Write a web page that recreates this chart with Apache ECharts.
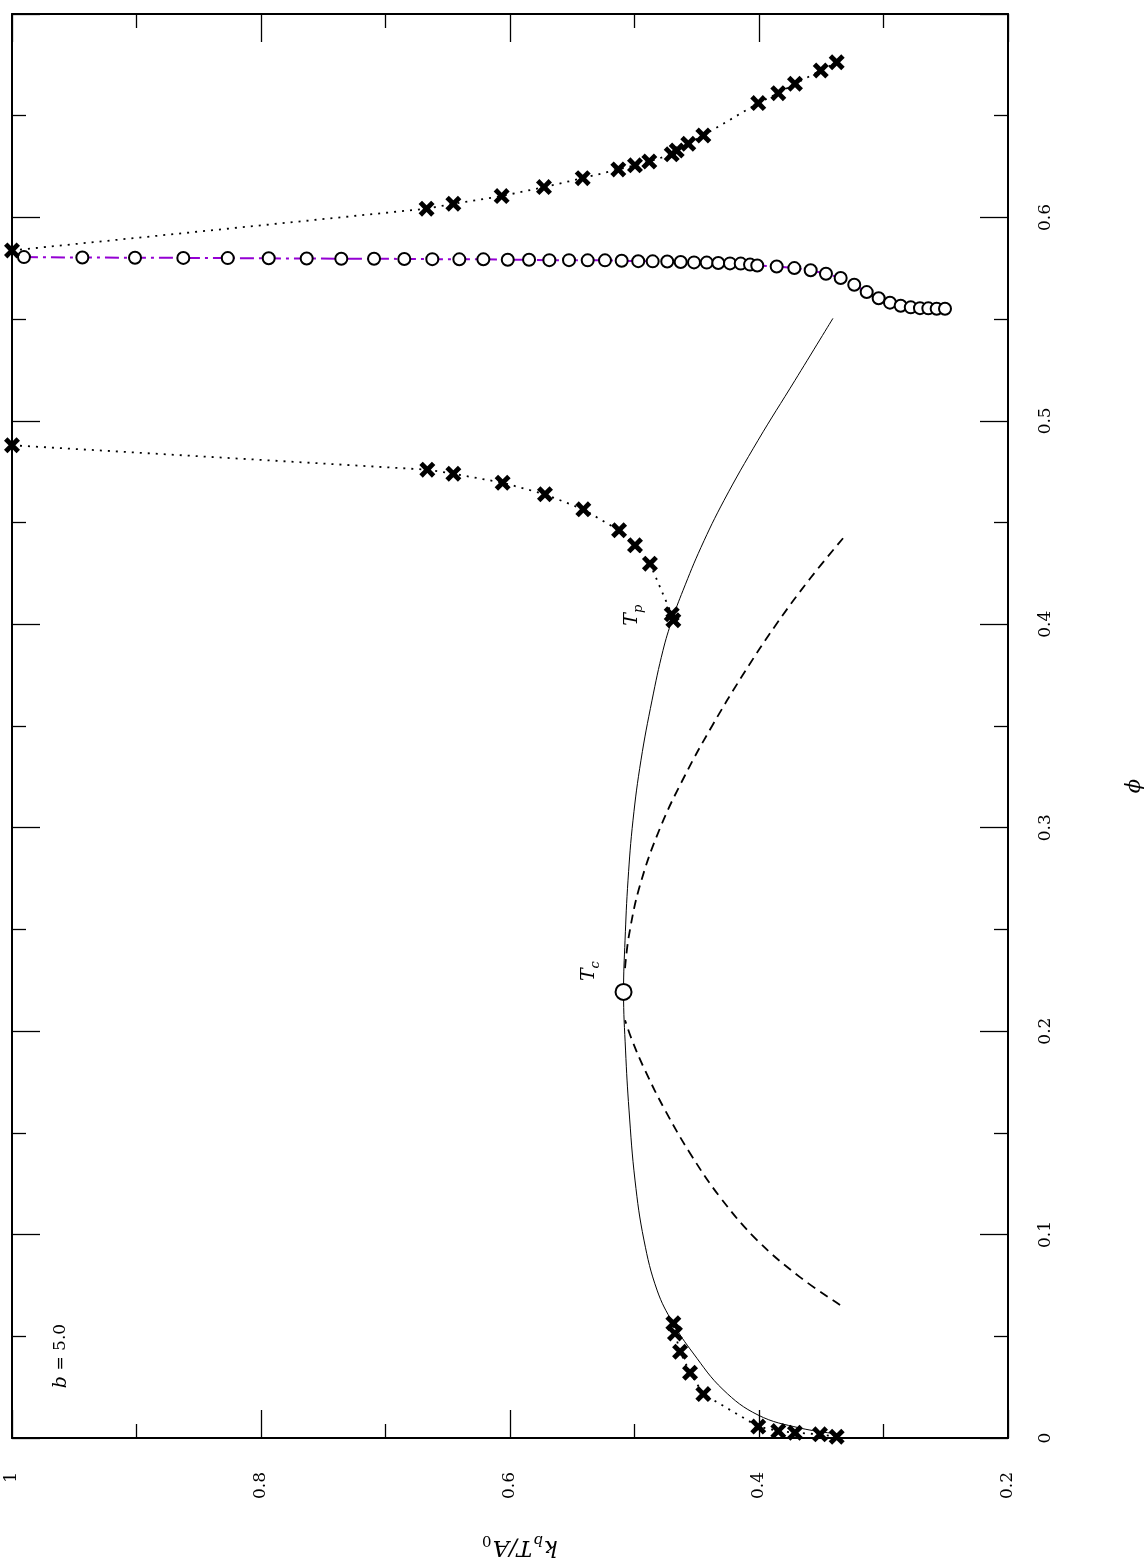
<!DOCTYPE html>
<html><head><meta charset="utf-8">
<script src="https://cdn.jsdelivr.net/npm/echarts@6/dist/echarts.min.js"></script>
<style>html,body{margin:0;padding:0;background:#fff;} #c{width:1144px;height:1562px;}</style>
</head><body><div id="c"></div>
<script>
// ---- data: kT = k_b T / A_0 (horizontal, inverted), phi (vertical) ----
const kTTicks = [0.2, 0.4, 0.6, 0.8, 1];
const phiTicks = [0, 0.1, 0.2, 0.3, 0.4, 0.5, 0.6];

const binodalKT  = [0.3365,0.3671,0.4008,0.4289,0.4530,0.4691,0.4819,0.4924,0.4996,0.5044,0.5072,0.5088,0.5076,0.5052,0.5012,0.4948,0.4859,0.4771,0.4699,0.4610,0.4466,0.4281,0.4008,0.3711,0.3406];
const binodalPhi = [0.0020,0.0049,0.0113,0.0238,0.0418,0.0565,0.0727,0.0973,0.1268,0.1612,0.1907,0.2193,0.2447,0.2742,0.3037,0.3332,0.3627,0.3872,0.4020,0.4167,0.4378,0.4609,0.4904,0.5199,0.5504];

const spinLowKT  = [0.3349,0.3671,0.4016,0.4313,0.4554,0.4755,0.4916,0.5020,0.5076];
const spinLowPhi = [0.0654,0.0791,0.0973,0.1184,0.1400,0.1612,0.1808,0.1956,0.2054];
const spinUpKT   = [0.5076,0.5044,0.4956,0.4795,0.4594,0.4378,0.4132,0.3861,0.3588,0.3325];
const spinUpPhi  = [0.2310,0.2472,0.2717,0.2998,0.3258,0.3499,0.3749,0.4000,0.4226,0.4423];

const crossLowKT  = [0.3376,0.3510,0.3711,0.3845,0.4006,0.4447,0.4554,0.4634,0.4675,0.4688];
const crossLowPhi = [0.0006,0.0018,0.0026,0.0034,0.0056,0.0216,0.0321,0.0424,0.0514,0.0564];
const crossMidKT  = [1.0,0.6664,0.6455,0.6059,0.5719,0.5411,0.5124,0.4996,0.4876,0.4701,0.4688];
const crossMidPhi = [0.4880,0.4760,0.4740,0.4696,0.4639,0.4565,0.4462,0.4388,0.4298,0.4049,0.4020];
const crossUpKT   = [1.0,0.6670,0.6455,0.6067,0.5727,0.5416,0.5130,0.4996,0.4881,0.4701,0.4661,0.4568,0.4447,0.4006,0.3845,0.3711,0.3504,0.3376];
const crossUpPhi  = [0.5838,0.6043,0.6067,0.6105,0.6149,0.6193,0.6236,0.6256,0.6275,0.6310,0.6329,0.6362,0.6403,0.6562,0.6611,0.6657,0.6722,0.6763];

const circKT  = [0.9904,0.9435,0.9012,0.8624,0.8267,0.7938,0.7633,0.7355,0.7092,0.6849,0.6624,0.6407,
                 0.6214,0.6018,0.5847,0.5684,0.5526,0.5376,0.5237,0.5103,0.4970,0.4854,0.4737,0.4629,0.4522,0.4420,0.4327,0.4233,0.4147,0.4072,0.4014,
                 0.3858,0.3716,0.3585,0.3462,0.3344,0.3235,0.3135,0.3039,0.2948,0.2862,0.2781,0.2707,0.2640,0.2573,0.2506];
const circPhi = [0.5805,0.5803,0.5802,0.5801,0.5800,0.5799,0.5798,0.5797,0.5797,0.5796,0.5795,0.5794,
                 0.5794,0.5792,0.5792,0.5790,0.5790,0.5789,0.5789,0.5787,0.5785,0.5784,0.5783,0.5781,0.5779,0.5778,0.5776,0.5774,0.5773,0.5768,0.5764,
                 0.5759,0.5751,0.5740,0.5723,0.5702,0.5669,0.5633,0.5603,0.5581,0.5566,0.5558,0.5554,0.5553,0.5551,0.5551];

const TcPoint = [0.5088, 0.2193];
const labelTc = {text: 'T', sub: 'c', kT: 0.5357, phi: 0.2295};
const labelTp = {text: 'T', sub: 'p', kT: 0.5012, phi: 0.4045};
const labelB  = {kT: 0.9598, phi: 0.0403};
const labelPhiAxis = {kT: 0.0985, phi: 0.3205};
const labelKTAxis  = {kT: 0.5920, phi: -0.0531};

// ---- build ----
const zip = (a, b) => a.map((v, i) => [v, b[i]]);
const serif = 'DejaVu Serif';
const crossPath = 'path://M0,3L3,0L7,4L11,0L14,3L10,7L14,11L11,14L7,10L3,14L0,11L4,7Z';

const richMath = {
  i:  {fontFamily: serif, fontStyle: 'italic', fontSize: 19, lineHeight: 20, verticalAlign: 'top', color: '#000'},
  s:  {fontFamily: serif, fontStyle: 'italic', fontSize: 13, lineHeight: 14, padding: [9,0,0,0], verticalAlign: 'top', color: '#000'},
  r:  {fontFamily: serif, fontSize: 17, lineHeight: 20, verticalAlign: 'top', color: '#000'},
  ph: {fontFamily: serif, fontStyle: 'italic', fontSize: 21, lineHeight: 22, color: '#000'},
  n:  {fontFamily: serif, fontStyle: 'italic', fontSize: 23, lineHeight: 24, verticalAlign: 'top', color: '#000'},
  ns: {fontFamily: serif, fontStyle: 'italic', fontSize: 15, lineHeight: 16, padding: [11,1,0,1], verticalAlign: 'top', color: '#000'},
  nsr:{fontFamily: serif, fontSize: 15, lineHeight: 16, padding: [11,0,0,1], verticalAlign: 'top', color: '#000'}
};

const tickCommon = {show: true, inside: true, length: 28, lineStyle: {color: '#000', width: 1.3}};
const minorCommon = {show: true, splitNumber: 2, length: 14, lineStyle: {color: '#000', width: 1.3}};
const lineCommon = {show: true, onZero: false, lineStyle: {color: '#000', width: 2}};
const labelCommon = {fontFamily: serif, fontSize: 17, color: '#000', rotate: 90};

function xAx(pos, showLabel) {
  return {type: 'value', min: kTTicks[0], max: kTTicks[kTTicks.length-1], interval: 0.2, inverse: true,
    position: pos, axisLine: lineCommon, axisTick: tickCommon, minorTick: minorCommon,
    splitLine: {show: false}, minorSplitLine: {show: false},
    axisLabel: Object.assign({show: showLabel, margin: 34,
      formatter: v => kTTicks.find(t => Math.abs(t - v) < 1e-6) !== undefined ? String(+v.toFixed(2)) : ''}, labelCommon)};
}
function yAx(pos, showLabel) {
  return {type: 'value', min: 0, max: 0.7, interval: 0.1,
    position: pos, axisLine: lineCommon, axisTick: tickCommon, minorTick: minorCommon,
    splitLine: {show: false}, minorSplitLine: {show: false},
    axisLabel: Object.assign({show: showLabel, margin: 29, showMaxLabel: false,
      formatter: v => phiTicks.find(t => Math.abs(t - v) < 1e-6) !== undefined ? String(+v.toFixed(2)) : ''}, labelCommon)};
}

const crossSeries = (data) => ({
  type: 'line', data: data, xAxisIndex: 0, yAxisIndex: 0, z: 5,
  symbol: crossPath, symbolSize: 16, showSymbol: true, showAllSymbol: true, symbolKeepAspect: true,
  itemStyle: {color: '#000'},
  lineStyle: {color: '#000', width: 1.8, type: [2, 6]},
  silent: true, animation: false
});

const chart = echarts.init(document.getElementById('c'), null, {renderer: 'canvas'});
const option = {
  animation: false,
  backgroundColor: '#fff',
  grid: {left: 12, right: 136, top: 14, bottom: 124, containLabel: false, outerBoundsMode: 'none'},
  xAxis: [xAx('bottom', true), xAx('top', false)],
  yAxis: [yAx('right', true), yAx('left', false)],
  series: [
    {type: 'line', data: zip(binodalKT, binodalPhi), smooth: 0.4, showSymbol: false, z: 2,
     lineStyle: {color: '#000', width: 1}, silent: true},
    {type: 'line', data: zip(spinLowKT, spinLowPhi), smooth: 0.4, showSymbol: false, z: 2,
     lineStyle: {color: '#000', width: 1.8, type: [9, 6]}, silent: true},
    {type: 'line', data: zip(spinUpKT, spinUpPhi), smooth: 0.4, showSymbol: false, z: 2,
     lineStyle: {color: '#000', width: 1.8, type: [9, 6]}, silent: true},
    {type: 'line', data: zip(circKT, circPhi), z: 3, symbol: 'circle', symbolSize: 12,
     showSymbol: true, showAllSymbol: true,
     itemStyle: {color: '#fff', borderColor: '#000', borderWidth: 2},
     lineStyle: {color: '#9400d3', width: 2, type: [14, 5, 3, 5]}, silent: true},
    crossSeries(zip(crossLowKT, crossLowPhi)),
    crossSeries(zip(crossMidKT, crossMidPhi)),
    crossSeries(zip(crossUpKT, crossUpPhi)),
    {type: 'scatter', data: [TcPoint], symbol: 'circle', symbolSize: 16, z: 6,
     itemStyle: {color: '#fff', borderColor: '#000', borderWidth: 2, opacity: 1}, silent: true}
  ]
};
chart.setOption(option);

const px = (k, p) => chart.convertToPixel({seriesIndex: 0}, [k, p]);
const mk = (pos, text, rot) => ({type: 'text', x: pos[0], y: pos[1], rotation: rot, z: 10,
  style: {text: text, rich: richMath, align: 'center', verticalAlign: 'middle', fill: '#000'}});
const R90 = Math.PI / 2;
chart.setOption({graphic: [
  mk(px(labelTc.kT, labelTc.phi), '{i|' + labelTc.text + '}{s|' + labelTc.sub + '}', R90),
  mk(px(labelTp.kT, labelTp.phi), '{i|' + labelTp.text + '}{s|' + labelTp.sub + '}', R90),
  mk(px(labelB.kT, labelB.phi), '{i|b}{r| = 5.0}', R90),
  mk(px(labelPhiAxis.kT, labelPhiAxis.phi), '{ph|ϕ}', R90),
  mk(px(labelKTAxis.kT, labelKTAxis.phi), '{n|k}{ns|b}{n|T/A}{nsr|0}', Math.PI)
]});
</script>
</body></html>
